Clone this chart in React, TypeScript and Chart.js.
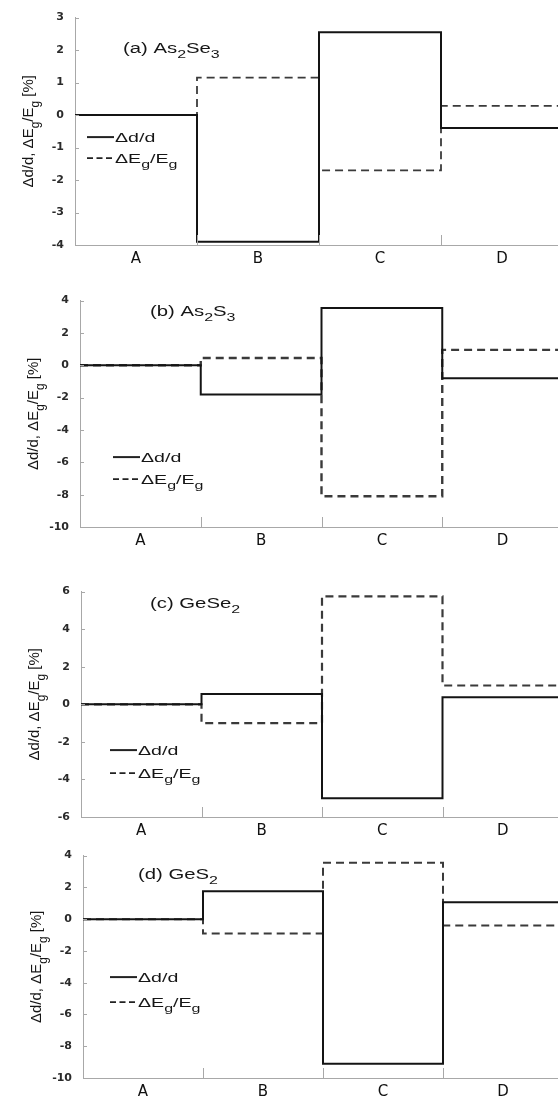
import React, { useEffect, useRef } from 'react';
import { Chart, registerables } from 'chart.js';

Chart.register(...registerables);

// ---------- data ----------
const categories = ['A', 'B', 'C', 'D'];

// (a) As2Se3
const asSeDd = [0, -3.9, 2.55, -0.4];
const asSeEg = [0, 1.15, -1.7, 0.28];
const asSeYTicks = [-4, -3, -2, -1, 0, 1, 2, 3];

// (b) As2S3
const asSDd = [0, -1.8, 3.55, -0.8];
const asSEg = [0, 0.45, -8.1, 0.95];
const asSYTicks = [-10, -8, -6, -4, -2, 0, 2, 4];

// (c) GeSe2
const geSeDd = [0, 0.55, -5.0, 0.38];
const geSeEg = [0, -1.0, 5.75, 1.0];
const geSeYTicks = [-6, -4, -2, 0, 2, 4, 6];

// (d) GeS2
const geSDd = [0, 1.75, -9.1, 1.07];
const geSEg = [0, -0.9, 3.55, -0.4];
const geSYTicks = [-10, -8, -6, -4, -2, 0, 2, 4];

type Part = { t: string; sub?: boolean };

const yTitle: Part[] = [
  { t: 'Δd/d, ΔE' }, { t: 'g', sub: true }, { t: '/E' }, { t: 'g', sub: true }, { t: ' [%]' },
];
const legendDd: Part[] = [{ t: 'Δd/d' }];
const legendEg: Part[] = [{ t: 'ΔE' }, { t: 'g', sub: true }, { t: '/E' }, { t: 'g', sub: true }];

const FONT = '"Liberation Sans", Arial, sans-serif';
const CANVAS_W = 563;
const X_AXIS_H = 28;

const panels = [
  {
    dd: asSeDd, eg: asSeEg, yTicks: asSeYTicks,
    title: [{ t: '(a) As' }, { t: '2', sub: true }, { t: 'Se' }, { t: '3', sub: true }] as Part[],
    pageTop: 0, left: 75, top: 12, plotH: 233,
    titleX: 48, titleY: 35, legX: 12, legY1: 119, legY2: 140, egWidth: 1.8,
  },
  {
    dd: asSDd, eg: asSEg, yTicks: asSYTicks,
    title: [{ t: '(b) As' }, { t: '2', sub: true }, { t: 'S' }, { t: '3', sub: true }] as Part[],
    pageTop: 283, left: 80, top: 12, plotH: 232,
    titleX: 70, titleY: 15, legX: 33, legY1: 156, legY2: 178, egWidth: 2.4,
  },
  {
    dd: geSeDd, eg: geSeEg, yTicks: geSeYTicks,
    title: [{ t: '(c) GeSe' }, { t: '2', sub: true }] as Part[],
    pageTop: 574, left: 81, top: 12, plotH: 231,
    titleX: 69, titleY: 16, legX: 29, legY1: 158, legY2: 181, egWidth: 2.2,
  },
  {
    dd: geSDd, eg: geSEg, yTicks: geSYTicks,
    title: [{ t: '(d) GeS' }, { t: '2', sub: true }] as Part[],
    pageTop: 838, left: 83, top: 12, plotH: 228,
    titleX: 55, titleY: 23, legX: 27, legY1: 121, legY2: 146, egWidth: 2,
  },
];

function toSteps(vals: number[]) {
  const pts = vals.map((v, i) => ({ x: i, y: v }));
  pts.push({ x: vals.length, y: vals[vals.length - 1] });
  return pts;
}

function drawRich(
  ctx: CanvasRenderingContext2D, parts: Part[], x: number, y: number,
  size: number, sx: number, align: 'left' | 'center' = 'left',
) {
  ctx.save();
  ctx.translate(x, y);
  ctx.scale(sx, 1);
  const main = `${size}px ${FONT}`;
  const sub = `${Math.round(size * 0.8)}px ${FONT}`;
  ctx.textAlign = 'left';
  ctx.textBaseline = 'alphabetic';
  let total = 0;
  parts.forEach((p) => { ctx.font = p.sub ? sub : main; total += ctx.measureText(p.t).width; });
  let cx = align === 'center' ? -total / 2 : 0;
  parts.forEach((p) => {
    ctx.font = p.sub ? sub : main;
    ctx.fillText(p.t, cx, p.sub ? size * 0.38 : 0);
    cx += ctx.measureText(p.t).width;
  });
  ctx.restore();
}

const decorPlugin = {
  id: 'decor',
  afterDraw(chart: any, _args: any, opts: any) {
    const { ctx, chartArea, scales } = chart;
    const xs = scales.x;
    const ys = scales.y;
    ctx.save();
    // boundary marks between categories (inward)
    ctx.strokeStyle = '#a8a8a8';
    ctx.lineWidth = 1;
    for (let i = 1; i < categories.length; i++) {
      const px = Math.round(xs.getPixelForValue(i)) + 0.5;
      ctx.beginPath();
      ctx.moveTo(px, chartArea.bottom);
      ctx.lineTo(px, chartArea.bottom - 10);
      ctx.stroke();
    }
    // small inward y tick marks
    ys.ticks.forEach((t: any) => {
      const py = Math.round(ys.getPixelForValue(t.value)) + 0.5;
      ctx.beginPath();
      ctx.moveTo(chartArea.left, py);
      ctx.lineTo(chartArea.left + 4, py);
      ctx.stroke();
    });

    ctx.fillStyle = '#161616';
    // panel title
    drawRich(ctx, opts.title, chartArea.left + opts.titleX, chartArea.top + opts.titleY, 14, 1.45);

    // legend
    const lx = chartArea.left + opts.legX;
    const y1 = chartArea.top + opts.legY1;
    const y2 = chartArea.top + opts.legY2;
    ctx.strokeStyle = '#222';
    ctx.lineWidth = 2;
    ctx.beginPath();
    ctx.moveTo(lx, y1 + 0.5);
    ctx.lineTo(lx + 27, y1 + 0.5);
    ctx.stroke();
    ctx.lineWidth = 1.6;
    ctx.setLineDash([6, 3.5]);
    ctx.beginPath();
    ctx.moveTo(lx, y2 + 0.5);
    ctx.lineTo(lx + 27, y2 + 0.5);
    ctx.stroke();
    ctx.setLineDash([]);
    drawRich(ctx, legendDd, lx + 28, y1 + 5, 13.5, 1.45);
    drawRich(ctx, legendEg, lx + 28, y2 + 5, 13.5, 1.45);

    // rotated y-axis title
    ctx.save();
    ctx.translate(chartArea.left - 42, (chartArea.top + chartArea.bottom) / 2);
    ctx.rotate(-Math.PI / 2);
    drawRich(ctx, yTitle, 0, 0, 15, 1, 'center');
    ctx.restore();

    ctx.restore();
  },
};

function Panel({ p }: { p: (typeof panels)[number] }) {
  const ref = useRef<HTMLCanvasElement>(null);
  const h = p.top + p.plotH + X_AXIS_H;
  useEffect(() => {
    const chart = new Chart(ref.current as HTMLCanvasElement, {
      type: 'line',
      data: {
        datasets: [
          {
            label: 'Δd/d',
            data: toSteps(p.dd),
            borderColor: '#141414',
            borderWidth: 2,
            stepped: true,
            pointRadius: 0,
            fill: false,
          },
          {
            label: 'ΔEg/Eg',
            data: toSteps(p.eg),
            borderColor: '#3a3a3a',
            borderWidth: p.egWidth,
            borderDash: [8, 5],
            stepped: true,
            pointRadius: 0,
            fill: false,
          },
        ],
      },
      options: {
        animation: false,
        responsive: false,
        devicePixelRatio: 1,
        events: [],
        layout: { padding: { top: p.top, left: 0, right: 0, bottom: 0 } },
        scales: {
          x: {
            type: 'linear',
            min: 0,
            max: categories.length,
            afterBuildTicks: (scale: any) => {
              scale.ticks = categories.map((_c, i) => ({ value: i + 0.5 }));
            },
            afterFit: (scale: any) => { scale.height = X_AXIS_H; },
            ticks: {
              callback: (_v: any, i: number) => categories[i],
              font: { family: '"DejaVu Sans", sans-serif', size: 15 },
              color: '#111',
              padding: 5,
              maxRotation: 0,
              autoSkip: false,
            },
            grid: { display: true, drawOnChartArea: false, drawTicks: false },
            border: { display: true, color: '#a8a8a8', width: 1 },
          },
          y: {
            type: 'linear',
            min: p.yTicks[0],
            max: p.yTicks[p.yTicks.length - 1],
            afterBuildTicks: (scale: any) => {
              scale.ticks = p.yTicks.map((v) => ({ value: v }));
            },
            afterFit: (scale: any) => { scale.width = p.left; },
            ticks: {
              font: { family: '"DejaVu Sans", sans-serif', size: 11, weight: 'bold' },
              color: '#2a2a2a',
              padding: 11,
              autoSkip: false,
            },
            grid: { display: true, drawOnChartArea: false, drawTicks: false },
            border: { display: true, color: '#a8a8a8', width: 1 },
          },
        },
        plugins: {
          legend: { display: false },
          tooltip: { enabled: false },
          decor: {
            title: p.title,
            titleX: p.titleX,
            titleY: p.titleY,
            legX: p.legX,
            legY1: p.legY1,
            legY2: p.legY2,
          },
        } as any,
      },
      plugins: [decorPlugin],
    });
    return () => chart.destroy();
  }, []);
  return (
    <canvas
      ref={ref}
      width={CANVAS_W}
      height={h}
      style={{ position: 'absolute', left: 0, top: p.pageTop, width: CANVAS_W, height: h }}
    />
  );
}

export default function App() {
  return (
    <div
      style={{
        position: 'absolute', left: 0, top: 0, width: 558, height: 1098,
        overflow: 'hidden', background: '#fff',
      }}
    >
      {panels.map((p, i) => <Panel key={i} p={p} />)}
    </div>
  );
}
